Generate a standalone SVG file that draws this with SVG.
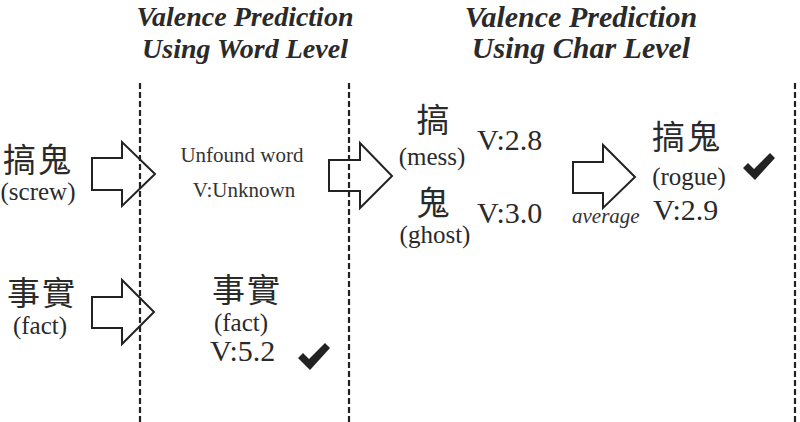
<svg xmlns="http://www.w3.org/2000/svg" width="800" height="422" viewBox="0 0 800 422">
  <style>
    .title { font-family: "Times New Roman", "Liberation Serif", Tinos, "DejaVu Serif", serif; font-weight: bold; font-style: italic; fill: #2a2a2a; text-anchor: middle; }
    .cjk { font-family: "Noto Sans CJK TC", "Noto Sans CJK SC", sans-serif; font-size: 33px; fill: #2a2a2a; text-anchor: middle; letter-spacing: 2px; }
    .en { font-family: "Times New Roman", "Liberation Serif", Tinos, "DejaVu Serif", serif; fill: #2a2a2a; }
    .mid { text-anchor: middle; }
    .small { font-size: 21px; fill: #333; }
    .gloss { font-size: 25px; }
    .val { font-size: 30px; }
    .arrow { fill: #fff; stroke: #222; stroke-width: 2; stroke-linejoin: miter; }
    .sep { stroke: #222; stroke-width: 2.2; stroke-dasharray: 6 3; }
    .check { fill: #222; }
  </style>
  <defs>
    <path id="chk" d="M0,15 L5,10 L11,16 L27,0 L32,5 L12,27 Z"/>
  </defs>
  <rect width="800" height="422" fill="#fff"/>

  <g id="titles">
    <text class="title" x="245" y="26" font-size="28">Valence Prediction</text>
    <text class="title" x="245" y="58" font-size="28">Using Word Level</text>
    <text class="title" x="581" y="27" font-size="30">Valence Prediction</text>
    <text class="title" x="581" y="58" font-size="30">Using Char Level</text>
  </g>

  <g id="connectors">
    <polygon class="arrow" points="92,158 122,158 122,142 155,174 122,206 122,190 92,190"/>
    <polygon class="arrow" points="92,297 122,297 122,280 154,312 122,344 122,328 92,328"/>
    <polygon class="arrow" points="329,160 360,160 360,143 392,176 360,208 360,191 329,191"/>
    <polygon class="arrow" points="573,162 603,162 603,145 635,177 603,208 603,193 573,193"/>
  </g>

  <g id="separators">
    <line class="sep" x1="140" y1="83" x2="140" y2="422"/>
    <line class="sep" x1="349" y1="83" x2="349" y2="422"/>
    <line class="sep" x1="795" y1="83" x2="795" y2="422"/>
  </g>

  <g id="input-gaogui">
    <text class="cjk" x="38" y="172">搞鬼</text>
    <text class="en gloss mid" x="38" y="200">(screw)</text>
  </g>

  <g id="input-shishi">
    <text class="cjk" x="42" y="305">事實</text>
    <text class="en gloss mid" x="40" y="334">(fact)</text>
  </g>

  <g id="word-unfound">
    <text class="en small mid" x="242" y="162">Unfound word</text>
    <text class="en small mid" x="244" y="197">V:Unknown</text>
  </g>

  <g id="word-shishi">
    <text class="cjk" x="247" y="302">事實</text>
    <text class="en mid" font-size="25" x="241" y="331">(fact)</text>
    <text class="en val" x="210" y="361">V:5.2</text>
    <use href="#chk" class="check" x="298" y="343"/>
  </g>

  <g id="char-gao">
    <text class="cjk" x="434" y="132">搞</text>
    <text class="en gloss mid" x="432" y="165">(mess)</text>
    <text class="en val" x="477" y="150">V:2.8</text>
  </g>

  <g id="char-gui">
    <text class="cjk" x="434" y="215">鬼</text>
    <text class="en gloss mid" x="435" y="243">(ghost)</text>
    <text class="en val" x="477" y="223">V:3.0</text>
  </g>

  <g id="average-label">
    <text class="en small" font-style="italic" x="572" y="223">average</text>
  </g>

  <g id="char-result">
    <text class="cjk" x="687" y="149">搞鬼</text>
    <text class="en gloss mid" x="689" y="185">(rogue)</text>
    <text class="en val" x="653" y="220">V:2.9</text>
    <use href="#chk" class="check" x="743" y="153"/>
  </g>
</svg>
